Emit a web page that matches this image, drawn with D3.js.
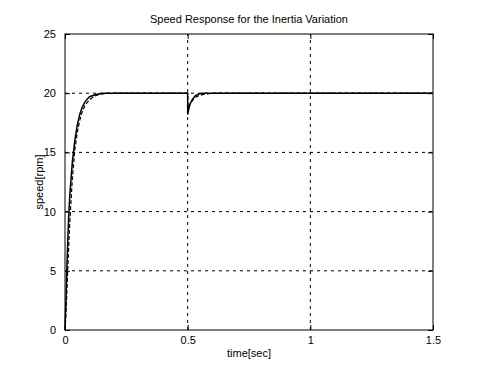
<!DOCTYPE html>
<html>
<head>
<meta charset="utf-8">
<script src="https://cdn.jsdelivr.net/npm/d3@7"></script>
<style>
  body { margin: 0; background: #fff; }
  text { font-family: "Liberation Sans", Arial, sans-serif; fill: #000; }
</style>
</head>
<body>
<script>
var xTicks = [0, 0.5, 1, 1.5];
var xTickLabels = ["0", "0.5", "1", "1.5"];
var yTicks = [0, 5, 10, 15, 20, 25];

var tSolid = [0, 0.004, 0.008, 0.012, 0.016, 0.02, 0.03, 0.04, 0.05, 0.06, 0.07, 0.08, 0.09, 0.1, 0.12, 0.14, 0.16, 0.2, 0.5, 0.5, 0.505, 0.51, 0.52, 0.53, 0.54, 0.56, 0.6, 1.5];
var speedSolid = [0, 2.5, 5.5, 8, 10, 11.5, 14.2, 16, 17.3, 18.2, 18.8, 19.2, 19.5, 19.7, 19.85, 19.95, 20, 20, 20, 18.2, 18.7, 19.1, 19.5, 19.75, 19.9, 20, 20, 20];

var tDashed = [0, 0.004, 0.008, 0.012, 0.016, 0.02, 0.03, 0.04, 0.05, 0.06, 0.07, 0.08, 0.09, 0.1, 0.12, 0.14, 0.16, 0.2, 0.5, 0.5, 0.51, 0.52, 0.53, 0.54, 0.56, 0.58, 0.6, 1.5];
var speedDashed = [0, 1.5, 3.5, 5.5, 7.5, 9.3, 12.8, 15.2, 16.7, 17.7, 18.4, 18.9, 19.2, 19.45, 19.75, 19.9, 19.97, 20, 20, 18.8, 19.1, 19.4, 19.6, 19.75, 19.88, 19.95, 20, 20];

var width = 480, height = 367;
var margin = {top: 34, right: 47, bottom: 37, left: 65};

var svg = d3.select("body").append("svg")
  .attr("width", width)
  .attr("height", height);

var x = d3.scaleLinear().domain([0, 1.5]).range([margin.left, width - margin.right]);
var y = d3.scaleLinear().domain([0, 25]).range([height - margin.bottom, margin.top]);

// grid (dotted in matlab, looks dashed on the scan)
svg.selectAll(".gx").data(xTicks.slice(1, 3)).enter().append("line")
  .attr("x1", function(d) { return x(d); }).attr("x2", function(d) { return x(d); })
  .attr("y1", y(0)).attr("y2", y(25))
  .attr("stroke", "#000").attr("stroke-width", 1).attr("stroke-dasharray", "3,4");
svg.selectAll(".gy").data(yTicks.slice(1, 5)).enter().append("line")
  .attr("x1", x(0)).attr("x2", x(1.5))
  .attr("y1", function(d) { return y(d); }).attr("y2", function(d) { return y(d); })
  .attr("stroke", "#000").attr("stroke-width", 1).attr("stroke-dasharray", "3,4");

// frame
svg.append("rect")
  .attr("x", x(0)).attr("y", y(25))
  .attr("width", x(1.5) - x(0)).attr("height", y(0) - y(25))
  .attr("fill", "none").attr("stroke", "#000").attr("stroke-width", 1);

// axes, ticks pointing inward
var xAxis = d3.axisBottom(x).tickValues(xTicks)
  .tickFormat(function(d, i) { return xTickLabels[i]; })
  .tickSizeInner(-5).tickSizeOuter(0).tickPadding(6);
var yAxis = d3.axisLeft(y).tickValues(yTicks)
  .tickSizeInner(-5).tickSizeOuter(0).tickPadding(9);

var gx = svg.append("g").attr("transform", "translate(0," + y(0) + ")").call(xAxis);
var gy = svg.append("g").attr("transform", "translate(" + x(0) + ",0)").call(yAxis);
[gx, gy].forEach(function(g) {
  g.select(".domain").remove();
  g.selectAll("text").style("font-size", "11px").style("font-family", "Liberation Sans, Arial, sans-serif");
});
svg.append("g").attr("transform", "translate(0," + y(25) + ")")
  .call(d3.axisTop(x).tickValues(xTicks).tickSizeInner(-5).tickSizeOuter(0).tickFormat(""))
  .select(".domain").remove();
svg.append("g").attr("transform", "translate(" + x(1.5) + ",0)")
  .call(d3.axisRight(y).tickValues(yTicks).tickSizeInner(-5).tickSizeOuter(0).tickFormat(""))
  .select(".domain").remove();

// curves
var lineSolid = d3.line()
  .x(function(d, i) { return x(tSolid[i]); })
  .y(function(d) { return y(d); });
var lineDashed = d3.line()
  .x(function(d, i) { return x(tDashed[i]); })
  .y(function(d) { return y(d); });

svg.append("path").datum(speedDashed)
  .attr("d", lineDashed)
  .attr("fill", "none").attr("stroke", "#000").attr("stroke-width", 1.2)
  .attr("stroke-dasharray", "4,2");
svg.append("path").datum(speedSolid)
  .attr("d", lineSolid)
  .attr("fill", "none").attr("stroke", "#000").attr("stroke-width", 1.5);

// labels
svg.append("text")
  .attr("x", (x(0) + x(1.5)) / 2).attr("y", 23)
  .attr("text-anchor", "middle").style("font-size", "11px")
  .text("Speed Response for the Inertia Variation");
svg.append("text")
  .attr("x", (x(0) + x(1.5)) / 2).attr("y", 357)
  .attr("text-anchor", "middle").style("font-size", "11px")
  .text("time[sec]");
svg.append("text")
  .attr("transform", "translate(43," + ((y(0) + y(25)) / 2) + ") rotate(-90)")
  .attr("text-anchor", "middle").style("font-size", "11px")
  .text("speed[rpm]");
</script>
</body>
</html>
